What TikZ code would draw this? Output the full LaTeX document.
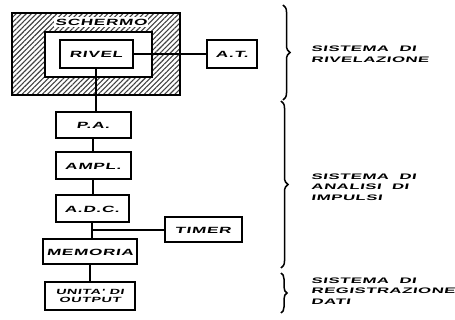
\documentclass[tikz,border=0pt]{standalone}
\usepackage{fontspec}
\usepackage{tikz}
\usetikzlibrary{
    positioning,
    calc,
    patterns.meta,
    decorations.pathreplacing
}
\newfontfamily\boxfont{Liberation Sans}[FakeStretch=1.9, LetterSpace=8, FakeSlant=0.2]
\newfontfamily\lblfont{Liberation Sans}[FakeStretch=2.1, LetterSpace=6, FakeSlant=0.2]
\tikzset{
  blk/.style    = {draw, line width=2pt, fill=white, inner sep=1pt,
                   align=center, font=\boxfont\bfseries\fontsize{9}{9.5}\selectfont},
  wire/.style   = {line width=1.6pt},
  brc/.style    = {line width=1.5pt, decorate,
                   decoration={brace, amplitude=7pt}},
  lbl/.style    = {anchor=west, align=left, inner sep=0pt,
                   font=\lblfont\bfseries\fontsize{8}{10.5}\selectfont}
}

\begin{document}
\begin{tikzpicture}[x=1pt, y=-1pt,
    shield/.style={draw, line width=2pt, minimum width=168pt, minimum height=82pt,
                   pattern={Lines[angle=45, distance=3.6pt, line width=1.1pt]},
                   pattern color=black!75},
    frame/.style={draw, line width=2pt, fill=white, minimum width=107pt,
                  minimum height=45pt}
  ]
    \useasboundingbox (0,0) rectangle (455,320);

    \node[shield](schermo) at (96,54) {};
    \node[frame](frame)    at (98.5,54.5) {};
    \node[blk, fill=white, draw=none, inner sep=1.5pt](tit) at (101,22) {SCHERMO};

    \node[blk, minimum width=73pt, minimum height=28pt](rivel) at (96,54)   {RIVEL};
    \node[blk, minimum width=50pt, minimum height=28pt](at)    at (232,54)  {A.T.};
    \node[blk, minimum width=75pt, minimum height=26pt](pa)    at (93,125)  {P.A.};
    \node[blk, minimum width=75pt, minimum height=27pt](ampl)  at (93,166)  {AMPL.};
    \node[blk, minimum width=73pt, minimum height=27pt](adc)   at (92,209)  {A.D.C.};
    \node[blk, minimum width=77pt, minimum height=25pt](timer) at (203,230) {TIMER};
    \node[blk, minimum width=94pt, minimum height=25pt](mem)   at (90,252)  {MEMORIA};
    \node[blk, minimum width=90pt, minimum height=27pt,
          font=\boxfont\bfseries\fontsize{7.5}{8.5}\selectfont](out) at (90,296) {UNITA' DI\\OUTPUT};

    \draw[wire](rivel.east)--(at.west);
    \draw[wire](rivel.south)--(rivel.south |- pa.north);
    \draw[wire](pa.south)--(pa.south |- ampl.north);
    \draw[wire](ampl.south)--(ampl.south |- adc.north);
    \draw[wire](adc.south)--(adc.south |- mem.north);
    \draw[wire](mem.south)--(mem.south |- out.north);
    \coordinate (jt) at ($(adc.south)!0.5!(mem.north)$);
    \draw[wire](timer.west)--(timer.west -| jt);

    \coordinate (b1a) at (283,5);   \coordinate (b1b) at (283,100);
    \coordinate (b2a) at (281,101); \coordinate (b2b) at (281,268);
    \coordinate (b3a) at (281,273); \coordinate (b3b) at (281,313);
    \draw[brc](b1a)--(b1b);
    \draw[brc](b2a)--(b2b);
    \draw[brc, decoration={amplitude=6pt}](b3a)--(b3b);

    \node[lbl](l1) at (311,54)  {SISTEMA\ \ DI\\RIVELAZIONE};
    \node[lbl](l2) at (311,187) {SISTEMA\ \ DI\\ANALISI\ \ DI\\IMPULSI};
    \node[lbl](l3) at (311,291) {SISTEMA\ \ DI\\REGISTRAZIONE\\DATI};
  \end{tikzpicture}
\end{document}
